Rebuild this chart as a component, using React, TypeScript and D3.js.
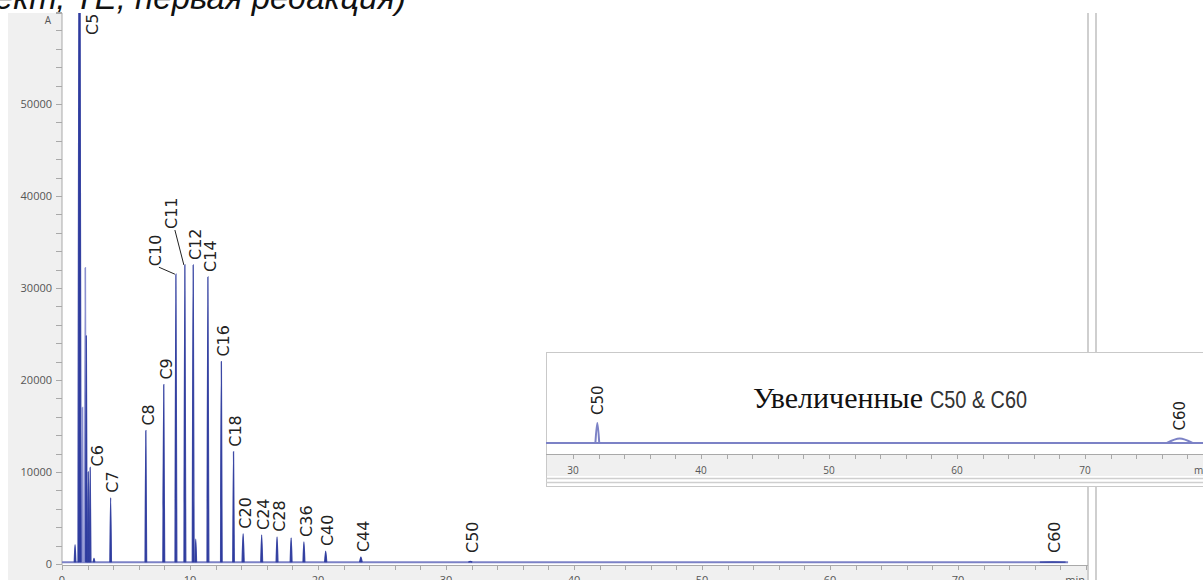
import React from 'react';
import * as d3 from 'd3';

// Chromatogram peaks: retention time (min), apex signal, half-width at base (min)
const peakTimes = [1.02, 1.37, 1.9, 2.05, 2.2, 2.5, 3.8, 6.55, 7.95, 8.9, 9.6, 10.25, 10.45, 11.4, 12.45, 13.4, 14.15, 15.6, 16.8, 17.9, 18.9, 20.6, 23.35, 31.9, 77.4];
const peakHeights = [2100, 90000, 24800, 10000, 10500, 600, 7200, 14500, 19500, 31500, 32500, 32500, 2700, 31200, 22000, 12200, 3300, 3150, 2950, 2850, 2400, 1400, 750, 290, 220];
const peakWidths = [0.06, 0.12, 0.06, 0.06, 0.06, 0.06, 0.06, 0.06, 0.07, 0.07, 0.07, 0.07, 0.06, 0.07, 0.06, 0.06, 0.08, 0.07, 0.07, 0.07, 0.07, 0.08, 0.1, 0.15, 1.0];

// Fainter overlapping components beside C5
const shoulderTimes = [1.6, 1.82];
const shoulderHeights = [17000, 32200];
const shoulderWidths = [0.05, 0.05];

const baselineLevel = 200;
const runEnd = 78.6;

// Peak annotations
const labelNames = ['C5', 'C6', 'C7', 'C8', 'C9', 'C10', 'C11', 'C12', 'C14', 'C16', 'C18', 'C20', 'C24', 'C28', 'C36', 'C40', 'C44', 'C50', 'C60'];
const labelTimes = [1.37, 2.2, 3.8, 6.55, 7.95, 8.9, 9.6, 10.25, 11.4, 12.45, 13.4, 14.15, 15.6, 16.8, 18.9, 20.6, 23.35, 31.9, 77.4];

const yTickValues = [0, 10000, 20000, 30000, 40000, 50000];
const xTickValues = [0, 10, 20, 30, 40, 50, 60, 70];
const insetTickValues = [30, 40, 50, 60, 70];
const axisUnit = 'min';
const signalUnit = 'A';

const titleText = '(Проект, ТЕ, первая редакция)';
const insetTitleMain = 'Увеличенные';
const insetTitleTail = 'C50 & C60';

// layout tweaks for individual labels (px)
const labelLayout: Record<string, { dx?: number; lift?: number; top?: number; leader?: boolean }> = {
  C5: { dx: 13, top: 35 },
  C6: { dx: 7, lift: 1 },
  C10: { dx: -21, lift: 8, leader: true },
  C11: { dx: -14, lift: 36, leader: true },
};

const W = 1203;
const H = 580;
const plotLeft = 62;
const plotRight = 1088;
const plotTop = 13;
const plotBottom = 565;

const x = d3.scaleLinear().domain([0, 80]).range([62, 1086]);
const y = d3.scaleLinear().domain([0, 60000]).range([564, 12]);

// inset: same time resolution, shifted right; strongly magnified signal
const inset = { left: 546, top: 352, right: 1212, bottom: 486, axisY: 454 };
const xi = d3.scaleLinear().domain([0, 80]).range([189, 1213]);
const yi = d3.scaleLinear().domain([200, 650]).range([443, 343]);

const DARK = '#2f3c9e';
const LIGHT = '#8b91d0';
const BASE = '#7c82c6';
const AXIS = '#a9a9a9';
const PANEL = '#f0f0f0';
const TICKTXT = '#555';

type Pt = [number, number];

function peakPath(sx: d3.ScaleLinear<number, number>, sy: d3.ScaleLinear<number, number>, t: number, h: number, w: number) {
  const pts: Pt[] = [
    [t - w, baselineLevel],
    [t, h],
    [t + w, baselineLevel],
  ];
  return d3
    .line<Pt>()
    .x((d) => sx(d[0]))
    .y((d) => sy(d[1]))
    .curve(d3.curveMonotoneX)(pts) as string;
}

function heightAt(t: number) {
  const i = peakTimes.indexOf(t);
  return i >= 0 ? peakHeights[i] : baselineLevel;
}

export default function App() {
  const yMinor = d3.range(0, 60001, 2000);
  const xMinor = d3.range(0, 81, 2);
  const insetMinor = d3.range(30, 81, 2);

  const labelFont = "'DejaVu Sans', Verdana, sans-serif";
  const tickFont = "'Open Sans', 'DejaVu Sans', sans-serif";

  const mainLabels = labelNames.map((name, i) => {
    const t = labelTimes[i];
    const h = heightAt(t);
    const lay = labelLayout[name] || {};
    const px = x(t);
    const apexY = Math.max(y(h), plotTop);
    const bottom = lay.top !== undefined ? lay.top : Math.min(apexY - (lay.lift ?? 5), 553);
    const cx = px + (lay.dx ?? 2);
    return { name, t, px, apexY, bottom, cx, leader: !!lay.leader };
  });

  const insetLabels = labelNames
    .map((name, i) => ({ name, t: labelTimes[i] }))
    .filter((d) => d.t > 28 && d.t < 79)
    .map((d) => {
      const h = heightAt(d.t);
      return { ...d, cx: xi(d.t), bottom: yi(h) - 8 };
    });

  return (
    <svg width={W} height={H} style={{ position: 'absolute', left: 0, top: 0, background: '#fff' }}>
      <defs>
        <clipPath id="plotClip">
          <rect x={plotLeft} y={plotTop} width={plotRight - plotLeft} height={plotBottom - plotTop} />
        </clipPath>
        <clipPath id="insetClip">
          <rect x={inset.left} y={inset.top} width={W - inset.left} height={inset.axisY - inset.top} />
        </clipPath>
      </defs>

      {/* heading, partly above the page */}
      <text
        x={406}
        y={9}
        textAnchor="end"
        fontFamily="'Liberation Sans', Arial, sans-serif"
        fontStyle="italic"
        fontSize={33}
        fill="#111"
      >
        {titleText}
      </text>

      {/* axis panels */}
      <rect x={8} y={plotTop} width={plotLeft - 8} height={H - plotTop} fill={PANEL} />
      <rect x={8} y={plotBottom} width={plotRight - 8} height={H - plotBottom} fill={PANEL} />

      {/* right-hand frame lines */}
      <line x1={plotRight} x2={plotRight} y1={plotTop} y2={H} stroke="#cfcfcf" strokeWidth={2} />
      <line x1={plotRight + 8} x2={plotRight + 8} y1={plotTop} y2={H} stroke="#cfcfcf" strokeWidth={2} />

      {/* y axis */}
      <line x1={plotLeft} x2={plotLeft} y1={plotTop} y2={plotBottom} stroke={AXIS} />
      <line x1={plotLeft - 6} x2={plotLeft} y1={plotTop + 0.5} y2={plotTop + 0.5} stroke={AXIS} />
      {yMinor.map((v) => (
        <line key={'ym' + v} x1={plotLeft - 6} x2={plotLeft} y1={Math.round(y(v)) + 0.5} y2={Math.round(y(v)) + 0.5} stroke={AXIS} />
      ))}
      {yTickValues.map((v) => (
        <text key={'yt' + v} x={plotLeft - 10} y={y(v)} dy="0.35em" textAnchor="end" fontFamily={tickFont} fontSize={11} fill={TICKTXT}>
          {v}
        </text>
      ))}
      <text x={plotLeft - 11} y={20} dy="0.35em" textAnchor="end" fontFamily={tickFont} fontSize={10} fill={TICKTXT}>
        {signalUnit}
      </text>

      {/* x axis */}
      <line x1={plotLeft} x2={plotRight} y1={plotBottom + 0.5} y2={plotBottom + 0.5} stroke={AXIS} />
      {xMinor.map((v) => (
        <line key={'xm' + v} x1={Math.round(x(v)) + 0.5} x2={Math.round(x(v)) + 0.5} y1={plotBottom} y2={plotBottom + 5} stroke={AXIS} />
      ))}
      {xTickValues.map((v) => (
        <text key={'xt' + v} x={x(v)} y={574} dominantBaseline="hanging" textAnchor="middle" fontFamily={tickFont} fontSize={11} fill={TICKTXT}>
          {v}
        </text>
      ))}
      <text x={x(80) - 1} y={574} dominantBaseline="hanging" textAnchor="end" fontFamily={tickFont} fontSize={11} fill={TICKTXT}>
        {axisUnit}
      </text>

      {/* trace */}
      <g clipPath="url(#plotClip)">
        <line x1={x(0)} x2={x(runEnd)} y1={y(baselineLevel)} y2={y(baselineLevel)} stroke={BASE} strokeWidth={2} />
        {shoulderTimes.map((t, i) => (
          <path key={'s' + i} d={peakPath(x, y, t, shoulderHeights[i], shoulderWidths[i])} fill={LIGHT} stroke={LIGHT} strokeWidth={1.6} />
        ))}
        {peakTimes.map((t, i) => (
          <path key={'p' + i} d={peakPath(x, y, t, peakHeights[i], peakWidths[i])} fill={DARK} stroke={DARK} strokeWidth={1.3} strokeOpacity={0.9} />
        ))}
      </g>

      {/* peak labels */}
      {mainLabels.map((d) => (
        <g key={'l' + d.name}>
          {d.leader && (
            <line x1={d.cx + 4} y1={d.bottom + 1} x2={d.px - 1} y2={d.apexY} stroke="#222" strokeWidth={1} />
          )}
          <text
            transform={`translate(${d.cx},${d.bottom}) rotate(-90)`}
            dy="0.36em"
            fontFamily={labelFont}
            fontSize={16}
            fill="#222"
          >
            {d.name}
          </text>
        </g>
      ))}

      {/* magnified view of the late eluting peaks */}
      <g>
        <rect x={inset.left + 0.5} y={inset.top + 0.5} width={inset.right - inset.left} height={inset.bottom - inset.top} fill="#fff" stroke="#c9c9c9" />
        <rect x={inset.left + 1} y={inset.axisY} width={W - inset.left} height={22} fill={PANEL} />
        <line x1={inset.left} x2={W} y1={inset.axisY + 0.5} y2={inset.axisY + 0.5} stroke={AXIS} />
        <line x1={inset.left} x2={W} y1={478.5} y2={478.5} stroke="#cfcfcf" strokeWidth={1.5} />
        <line x1={inset.left} x2={W} y1={482.5} y2={482.5} stroke="#cfcfcf" strokeWidth={1.5} />
        {insetMinor.map((v) => (
          <line key={'im' + v} x1={Math.round(xi(v)) + 0.5} x2={Math.round(xi(v)) + 0.5} y1={inset.axisY} y2={inset.axisY + 5} stroke={AXIS} />
        ))}
        {insetTickValues.map((v) => (
          <text key={'it' + v} x={xi(v)} y={470} dy="0.35em" textAnchor="middle" fontFamily={tickFont} fontSize={10} fill={TICKTXT}>
            {v}
          </text>
        ))}
        <text x={xi(80) - 1} y={470} dy="0.35em" textAnchor="end" fontFamily={tickFont} fontSize={10} fill={TICKTXT}>
          {axisUnit}
        </text>

        <g clipPath="url(#insetClip)">
          <line x1={xi(27)} x2={xi(80)} y1={yi(baselineLevel)} y2={yi(baselineLevel)} stroke={BASE} strokeWidth={2} />
          {peakTimes.map((t, i) =>
            t > 27 ? (
              <path key={'ip' + i} d={peakPath(xi, yi, t, peakHeights[i], peakWidths[i])} fill="none" stroke={BASE} strokeWidth={2} />
            ) : null
          )}
        </g>

        {insetLabels.map((d) => (
          <text
            key={'il' + d.name}
            transform={`translate(${d.cx},${d.bottom}) rotate(-90)`}
            dy="0.36em"
            fontFamily={labelFont}
            fontSize={15}
            fill="#222"
          >
            {d.name}
          </text>
        ))}

        <text x={753} y={408} fill="#111" fontFamily="'Liberation Serif', 'Times New Roman', serif" fontSize={30} textLength={170} lengthAdjust="spacingAndGlyphs">
          {insetTitleMain}
        </text>
        <text x={930} y={408} fill="#333" fontFamily="'Liberation Sans', sans-serif" fontSize={24} textLength={97} lengthAdjust="spacingAndGlyphs">
          {insetTitleTail}
        </text>
      </g>
    </svg>
  );
}
